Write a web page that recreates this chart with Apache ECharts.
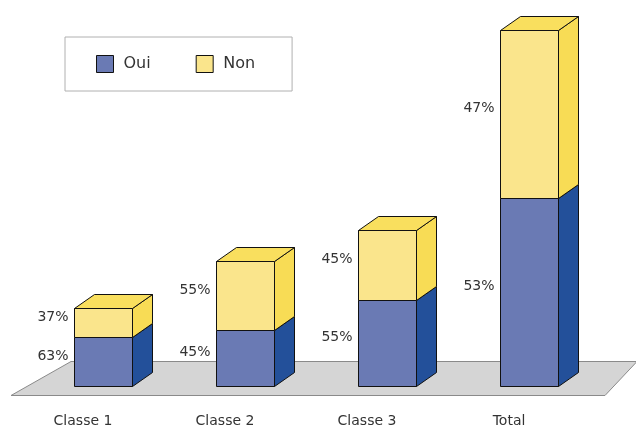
<!DOCTYPE html>
<html>
<head>
<meta charset="utf-8">
<script src="https://cdn.jsdelivr.net/npm/echarts@6/dist/echarts.min.js"></script>
<style>
  html, body { margin: 0; padding: 0; background: #fff; }
  #chart { width: 636px; height: 428px; }
</style>
</head>
<body>
<div id="chart"></div>
<script>
// Categories and stacked values (Oui at the bottom, Non on top)
const categories = ['Classe 1', 'Classe 2', 'Classe 3', 'Total'];
const ouiValues = [49, 56, 86, 188];
const nonValues = [29, 69, 70, 168];
const seriesNames = ['Oui', 'Non'];

const FONT = 'DejaVu Sans, Verdana, sans-serif';
const BAR_RATIO = 0.41;   // bar width as a share of the category band
const DEPTH_X = 20;       // 3D extrusion of the bars
const DEPTH_Y = 14;

const colors = {
  Oui: { front: '#6a7ab4', side: '#23509a', top: '#4862a8' },
  Non: { front: '#fae58c', side: '#f8dc55', top: '#f9df5e' }
};

function pct(part, a, b) {
  return Math.round(100 * part / (a + b)) + '%';
}

// Segment rows: [category index, low, high, is top segment, label]
const ouiRows = categories.map((c, i) =>
  [i, 0, ouiValues[i], 0, pct(ouiValues[i], ouiValues[i], nonValues[i])]);
const nonRows = categories.map((c, i) =>
  [i, ouiValues[i], ouiValues[i] + nonValues[i], 1, pct(nonValues[i], ouiValues[i], nonValues[i])]);

function makeSegmentRenderer(pal) {
  return function (params, api) {
    const idx = api.value(0);
    const lo = api.value(1);
    const hi = api.value(2);
    const isTop = api.value(3);
    const label = api.value(4);
    const band = api.size([1, 0])[0];
    const w = band * BAR_RATIO;
    const pLo = api.coord([idx, lo]);
    const pHi = api.coord([idx, hi]);
    const x0 = Math.round(pLo[0] - w / 2) + 0.5;
    const x1 = Math.round(pLo[0] + w / 2) + 0.5;
    const yb = Math.round(pLo[1]) + 0.5;
    const yt = Math.round(pHi[1]) + 0.5;
    const line = { stroke: '#111', lineWidth: 1, lineJoin: 'round' };
    const children = [
      {
        type: 'polygon',
        shape: { points: [[x1, yt], [x1 + DEPTH_X, yt - DEPTH_Y], [x1 + DEPTH_X, yb - DEPTH_Y], [x1, yb]] },
        style: Object.assign({ fill: pal.side }, line)
      },
      {
        type: 'rect',
        shape: { x: x0, y: yt, width: x1 - x0, height: yb - yt },
        style: Object.assign({ fill: pal.front }, line)
      }
    ];
    if (isTop) {
      children.push({
        type: 'polygon',
        shape: { points: [[x0, yt], [x0 + DEPTH_X, yt - DEPTH_Y], [x1 + DEPTH_X, yt - DEPTH_Y], [x1, yt]] },
        style: Object.assign({ fill: pal.top }, line)
      });
    }
    children.push({
      type: 'text',
      style: {
        text: label,
        x: x0 - 6,
        y: (yt + yb) / 2 - 6,
        align: 'right',
        verticalAlign: 'middle',
        fill: '#333',
        fontSize: 14,
        fontFamily: FONT
      }
    });
    return { type: 'group', children: children };
  };
}

// Grey floor under the bars, built from the grid rectangle
function renderFloor(params, api) {
  const cs = params.coordSys;
  const base = api.coord([0, 0])[1];
  const yf = Math.round(base + 9) + 0.5;
  const yb = Math.round(base - 25) + 0.5;
  const xl = cs.x - 21;
  const xr = cs.x + cs.width + 5;
  return {
    type: 'polygon',
    shape: { points: [[xl, yf], [xl + 60, yb], [xr + 32, yb], [xr, yf]] },
    style: { fill: '#d5d5d5', stroke: '#8a8a8a', lineWidth: 1 }
  };
}

const chart = echarts.init(document.getElementById('chart'), null, { renderer: 'canvas' });
chart.setOption({
  animation: false,
  backgroundColor: '#fff',
  grid: { left: 32, right: 36, top: 26, bottom: 42 },
  legend: {
    data: seriesNames.map(n => ({
      name: n,
      icon: 'rect',
      itemStyle: { color: colors[n].front, borderColor: '#111', borderWidth: 1 }
    })),
    left: 65,
    top: 37,
    padding: [18, 37, 18, 31],
    itemGap: 45,
    itemWidth: 17,
    itemHeight: 17,
    borderColor: '#b0b0b0',
    borderWidth: 1,
    textStyle: { fontSize: 16, color: '#333', fontFamily: FONT, padding: [0, 0, 0, 5] }
  },
  xAxis: {
    type: 'category',
    data: categories,
    axisLine: { show: false },
    axisTick: { show: false },
    axisLabel: {
      margin: 28,
      fontSize: 14,
      color: '#333',
      fontFamily: FONT,
      padding: [0, 40, 0, 0]
    }
  },
  yAxis: {
    type: 'value',
    min: 0,
    max: 360,
    show: false
  },
  series: [
    {
      type: 'custom',
      name: 'floor',
      silent: true,
      z: 1,
      data: [[0, 0]],
      renderItem: renderFloor
    },
    {
      type: 'custom',
      name: 'Oui',
      z: 2,
      itemStyle: { color: colors.Oui.front },
      encode: { x: 0, y: [1, 2] },
      data: ouiRows,
      renderItem: makeSegmentRenderer(colors.Oui)
    },
    {
      type: 'custom',
      name: 'Non',
      z: 3,
      itemStyle: { color: colors.Non.front },
      encode: { x: 0, y: [1, 2] },
      data: nonRows,
      renderItem: makeSegmentRenderer(colors.Non)
    }
  ]
});
</script>
</body>
</html>
